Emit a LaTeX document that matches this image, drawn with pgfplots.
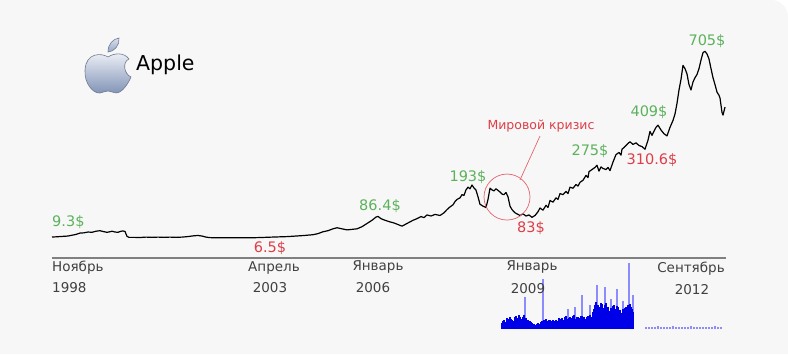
\documentclass[border=0pt]{standalone}
\usepackage{pgfplots}
\pgfplotsset{compat=1.18}
\usepackage{fontspec}
\setmainfont{DejaVu Sans}
\definecolor{cardgray}{RGB}{247,247,247}
\definecolor{lblgreen}{RGB}{92,178,92}
\definecolor{lblred}{RGB}{222,62,72}
\definecolor{axgray}{RGB}{64,64,64}
\definecolor{volblue}{RGB}{0,0,232}
\definecolor{vollight}{RGB}{140,140,255}
\begin{document}
\begin{tikzpicture}[x=1pt,y=1pt]
\useasboundingbox (0,0) rectangle (788,354);
\fill[white] (0,0) rectangle (788,354);
\fill[cardgray] (0,0) -- (788,0) -- (788,337) arc[start angle=0,end angle=90,radius=17] -- (0,354) -- cycle;

% volume
\begin{axis}[at={(0pt,25pt)}, anchor=south west, scale only axis, width=788pt, height=60pt,
  xmin=0, xmax=788, ymin=0, ymax=60, hide axis, clip=false]
\addplot[ycomb, vollight, line width=1.3pt] coordinates {
(525,32) (543,50) (568,20) (575,22) (582,34) (590,24) (597,44) (605,42) (611,30) (617,40) (623,28) (629,66) (633,34)};
\addplot[ycomb, volblue, line width=1.1pt] coordinates {
(502,6) (503,8) (504,9) (505,6) (506,7) (507,11) (508,10) (509,8) (510,12) (511,10) (512,9) (513,7) (514,8) (515,12) (516,13) (517,9) (518,11) (519,14) (520,12) (521,9)
(522,10) (523,12) (524,14) (525,10) (526,11) (527,8) (528,9) (529,7) (530,8) (531,7) (532,6) (533,5) (534,5) (535,4) (536,4) (537,5) (538,6) (539,4) (540,5) (541,7)
(542,8) (543,7) (544,9) (545,6) (546,10) (547,8) (548,7) (549,9) (550,9) (551,6) (552,8) (553,9) (554,7) (555,8) (556,9) (557,7) (558,8) (559,11) (560,10) (561,8)
(562,11) (563,9) (564,9) (565,12) (566,13) (567,9) (568,10) (569,11) (570,12) (571,9) (572,11) (573,13) (574,14) (575,10) (576,10) (577,12) (578,12) (579,10) (580,11) (581,13)
(582,13) (583,11) (584,12) (585,9) (586,10) (587,12) (588,13) (589,11) (590,14) (591,12) (592,12) (593,17) (594,20) (595,24) (596,27) (597,22) (598,24) (599,20) (600,22) (601,26)
(602,25) (603,19) (604,21) (605,24) (606,26) (607,20) (608,22) (609,17) (610,18) (611,21) (612,20) (613,23) (614,24) (615,19) (616,20) (617,23) (618,22) (619,17) (620,19) (621,15)
(622,16) (623,20) (624,18) (625,21) (626,22) (627,19) (628,24) (629,20) (630,25) (631,22) (632,20) (633,17)};
\addplot[ycomb, vollight, line width=2.2pt] coordinates {
(646,2) (649,2.5) (652,2) (655,2) (658,3) (661,2) (664,2.5) (667,2) (670,2) (673,3)
(676,2) (679,2) (682,2.5) (685,2) (688,2) (691,3) (694,2) (697,2.5) (700,2) (703,2)
(706,2.5) (709,2) (712,2) (715,3) (718,2) (721,2)};
\end{axis}

% price
\begin{axis}[at={(0pt,0pt)}, anchor=south west, scale only axis, width=788pt, height=354pt,
  xmin=0, xmax=788, ymin=-428.8, ymax=897, hide axis, clip=false]
\addplot[black, line width=1.2pt, line join=round] coordinates {
(52,9.3) (56,10) (60,11) (64,12) (68,13) (72,16) (76,19) (80,24) (84,25) (88,28) (92,27) (96,31) (100,33) (103,30) (107,27) (110,29) (112,31) (115,28) (118,27) (121,31) (123,32) (125,30) (127,12) (129,8) (134,8) (140,7.5) (146,9) (152,8) (158,9) (164,8) (170,9) (176,8) (182,9) (188,11) (194,14) (198,15) (202,13) (206,9) (210,7) (220,6.5) (230,6.5) (240,6.6) (250,6.5) (257,7) (265,8) (272,9) (280,10) (288,11) (296,13) (304,15) (313,18) (318,22) (323,29) (328,33) (333,40) (337,44) (342,40) (347,36) (352,38) (357,40) (362,48) (367,60) (372,72) (376,84) (378,86.4) (381,78) (385,72) (390,66) (394,62) (398,56) (402,50) (406,58) (410,66) (413,72) (417,78) (421,86) (424,82) (427,92) (431,88) (435,94) (440,90) (444,100) (447,112) (450,122) (453,130) (455,142) (457,150) (460,156) (462,168) (464,165) (466,186) (468,196) (470,190) (472,204) (474,193) (476,185) (478,160) (480,132) (483,125) (486,120) (488,150) (490,192) (492,186) (494,182) (496,190) (498,184) (500,178) (502,170) (504,168) (506,176) (508,160) (510,125) (512,112) (515,100) (518,94) (520,90) (523,96) (526,88) (529,92) (532,83) (535,90) (538,104) (540,118) (543,110) (546,128) (548,120) (550,146) (553,140) (556,156) (558,150) (560,172) (563,168) (566,180) (568,172) (570,196) (573,192) (576,206) (578,200) (580,214) (583,222) (586,240) (588,232) (589,254) (592,262) (595,270) (597,278) (599,256) (601,272) (603,266) (606,262) (608,270) (610,258) (613,290) (616,318) (619,326) (621,316) (622,338) (625,348) (628,360) (630,366) (633,356) (636,362) (639,352) (642,348) (645,338) (648,372) (650,405) (652,390) (653,398) (656,420) (658,428) (661,410) (664,396) (667,388) (670,420) (673,446) (675,470) (677,510) (679,560) (681,600) (683,652) (685,640) (687,620) (689,580) (691,560) (693,590) (695,606) (697,618) (699,640) (701,672) (703,700) (705,705) (707,695) (709,676) (711,640) (713,606) (715,580) (717,552) (719,540) (720,530) (722,476) (723,466) (725,496)};

% baseline
\draw[black!50, line width=1.3pt] (axis cs:52,-69.3) -- (axis cs:726,-69.3);

% value labels
\begin{scope}[every node/.style={font=\fontsize{14.5}{16}\selectfont, inner sep=0pt}]
\node[lblgreen, anchor=west] at (axis cs:52,65.5) {9.3\$};
\node[lblred] at (axis cs:270,-31.8) {6.5\$};
\node[lblgreen] at (axis cs:380,125.5) {86.4\$};
\node[lblgreen] at (axis cs:468,234) {193\$};
\node[lblred] at (axis cs:531,43) {83\$};
\node[lblgreen] at (axis cs:590,331) {275\$};
\node[lblgreen] at (axis cs:649,477.5) {409\$};
\node[lblred] at (axis cs:652,298) {310.6\$};
\node[lblgreen] at (axis cs:707,743) {705\$};
\end{scope}

% crisis annotation
\draw[lblred!80, line width=0.7pt] (axis cs:507,159) circle[radius=23pt];
\draw[lblred!80, line width=0.7pt] (axis cs:520,223) -- (axis cs:540,387.6);
\node[lblred, font=\fontsize{12.5}{14}\selectfont, inner sep=0pt] at (axis cs:541,425) {Мировой кризис};

% date labels
\begin{scope}[every node/.style={axgray, font=\fontsize{13.5}{15}\selectfont, inner sep=0pt}]
\node[anchor=west] at (axis cs:52,-106.7) {Ноябрь};
\node[anchor=west] at (axis cs:52,-181.6) {1998};
\node at (axis cs:274,-106.7) {Апрель};
\node at (axis cs:270,-181.6) {2003};
\node at (axis cs:378,-103) {Январь};
\node at (axis cs:373,-181.6) {2006};
\node at (axis cs:532,-103) {Январь};
\node at (axis cs:528,-185) {2009};
\node at (axis cs:691,-110) {Сентябрь};
\node at (axis cs:692,-189) {2012};
\end{scope}
\end{axis}

% logo and title
\begin{scope}[shift={(108,282)}]
\shade[top color={rgb,255:red,238;green,241;blue,247}, bottom color={rgb,255:red,128;green,146;blue,182}, draw={rgb,255:red,110;green,122;blue,145}, line width=0.6pt]
 (0,15) .. controls (-6,19) and (-22,20) .. (-23,2)
 .. controls (-24,-12) and (-14,-22) .. (-8,-21)
 .. controls (-4,-20) and (-2,-19) .. (0,-19)
 .. controls (3,-19) and (5,-21) .. (8,-21)
 .. controls (14,-21) and (20,-12) .. (23,-5)
 .. controls (16,-2) and (14,10) .. (21,13)
 .. controls (16,20) and (6,19) .. (0,15) -- cycle;
\shade[top color={rgb,255:red,220;green,226;blue,236}, bottom color={rgb,255:red,150;green,166;blue,196}, draw={rgb,255:red,110;green,122;blue,145}, line width=0.6pt]
 (0,20) .. controls (0,28) and (5,33) .. (11,34) .. controls (12,27) and (6,20) .. (0,20) -- cycle;
\end{scope}
\node[anchor=west, inner sep=0pt, font=\fontsize{20.5}{22}\selectfont] at (136,289) {Apple};
\end{tikzpicture}
\end{document}
